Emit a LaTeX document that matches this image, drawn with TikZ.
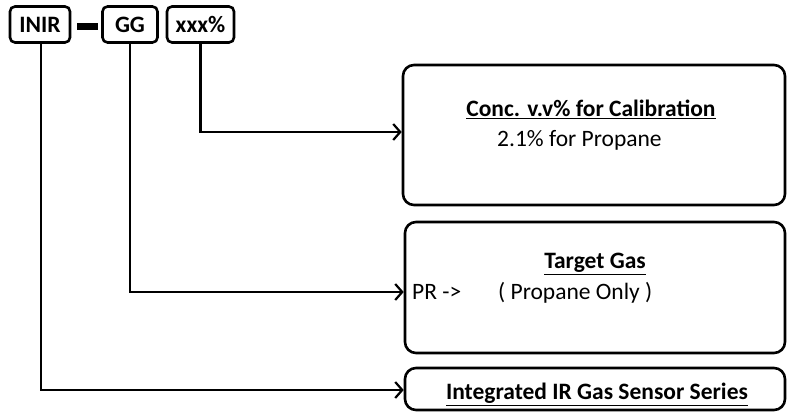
\documentclass[tikz,border=0pt]{standalone}
\usepackage{fontspec}
\setmainfont{Carlito}
\usetikzlibrary{arrows.meta}
\begin{document}
\begin{tikzpicture}[x=1pt,y=-1pt,
  codebox/.style={draw,line width=2.6pt,rounded corners=5pt,minimum height=36pt,inner sep=0pt,font=\fontsize{23.5}{26}\selectfont\bfseries},
  bigbox/.style={draw,line width=2.6pt,rounded corners=11pt,inner sep=0pt},
  conn/.style={line width=2.2pt,-{Straight Barb[length=7pt,width=16pt,line width=2.2pt]}},
  title/.style={font=\fontsize{23.5}{26}\selectfont\bfseries,inner sep=0pt,anchor=base},
  body/.style={font=\fontsize{23.5}{26}\selectfont,inner sep=0pt,anchor=base west}]
\useasboundingbox (0,0) rectangle (788,419);
\node[codebox,minimum width=60pt] (inir) at (40,24.5) {INIR};
\node[fill=black,minimum width=21pt,minimum height=7pt,inner sep=0pt] (dash) at (87.5,26.5) {};
\node[codebox,minimum width=55pt] (gg) at (130,24.5) {GG};
\node[codebox,minimum width=67pt] (pct) at (200.5,24.5) {xxx\%};
\node[bigbox,minimum width=382pt,minimum height=140pt] (conc) at (594,135) {};
\node[bigbox,minimum width=380pt,minimum height=131pt] (target) at (595,287.5) {};
\node[bigbox,minimum width=380pt,minimum height=42pt] (series) at (595,389) {};
\node[title] (conct) at (591,117) {\underline{Conc. v.v\% for Calibration}};
\node[body] (concb) at (497,147) {2.1\% for Propane};
\node[title] (targt) at (595,269) {\underline{Target Gas}};
\node[body] (pr) at (412,300) {PR ->};
\node[body] (prop) at (498,300) {( Propane Only )};
\node[title] (sert) at (597,400) {\underline{Integrated IR Gas Sensor Series}};
\draw[conn] (pct.south) |- ([yshift=3pt]conc.west);
\draw[conn] (gg.south) |- ([yshift=-4.5pt]target.west);
\draw[conn] ([xshift=1pt]inir.south) |- ([yshift=-1pt]series.west);
\end{tikzpicture}
\end{document}
